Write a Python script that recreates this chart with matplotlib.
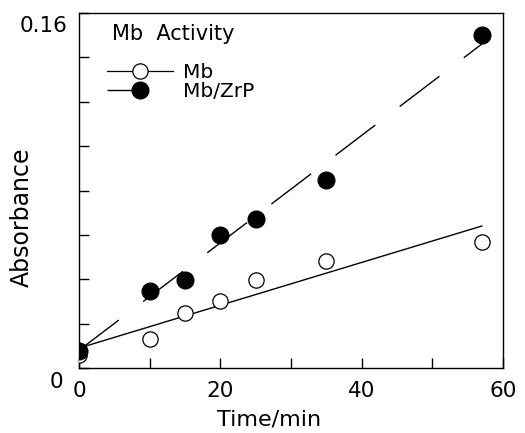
import matplotlib
matplotlib.use("Agg")
import matplotlib.pyplot as plt
from matplotlib.lines import Line2D
import numpy as np

plt.rcParams['font.family'] = ['DejaVu Sans']

# data
time_mb = [0, 10, 15, 20, 25, 35, 57]
abs_mb = [0.006, 0.013, 0.0246, 0.030, 0.0397, 0.0484, 0.057]
time_zrp = [0, 10, 15, 20, 25, 35, 57]
abs_zrp = [0.0077, 0.0349, 0.0397, 0.060, 0.0672, 0.0848, 0.150]

# fitted lines (start, end)
fit_t = [0, 57]
fit_mb = [0.009, 0.064]
fit_zrp = [0.008, 0.146]

fig = plt.figure(figsize=(5.25, 4.33), dpi=100)
ax = fig.add_axes([0.1505, 0.150, 0.8076, 0.820])

ax.plot(fit_t, fit_mb, color='black', lw=1.0, zorder=1)
ax.plot(fit_t, fit_zrp, color='black', lw=1.0, dashes=(36, 22), zorder=1)
ax.plot(time_mb, abs_mb, 'o', ms=11, mfc='white', mec='black', mew=0.9, zorder=3)
ax.plot(time_zrp, abs_zrp, 'o', ms=12, mfc='black', mec='black', zorder=4)

ax.set_xlim(0, 60)
ax.set_ylim(0, 0.16)
ax.set_xticks(np.arange(0, 61, 10))
ax.set_xticklabels(['0', '', '20', '', '40', '', '60'])
ax.set_yticks(np.arange(0, 0.161, 0.02))
ax.set_yticklabels([])
ax.tick_params(direction='in', length=7, width=1, labelsize=15.5, pad=9)
for s in ax.spines.values():
    s.set_linewidth(1.0)

ax.text(-0.038, -0.056, '0', transform=ax.transAxes, fontsize=15.5, ha='right', va='baseline')
ax.text(-0.028, 0.946, '0.16', transform=ax.transAxes, fontsize=15.5, ha='right', va='baseline')

ax.set_xlabel('Time/min', fontsize=16)
ax.xaxis.set_label_coords(0.448, -0.118)
ax.set_ylabel('Absorbance', fontsize=17)
ax.yaxis.set_label_coords(-0.106, 0.424)

ax.text(0.078, 0.924, 'Mb  Activity', transform=ax.transAxes, fontsize=15,
        ha='left', va='baseline')

handles = [
    Line2D([], [], color='black', lw=0.9, marker='o', ms=11, mfc='white', mec='black', mew=0.9),
    Line2D([], [], color='black', lw=1.0, dashes=(24, 100), marker='o', ms=12,
           mfc='black', mec='black'),
]
leg = ax.legend(handles, ['Mb', 'Mb/ZrP'], loc='upper left',
                bbox_to_anchor=(0.066, 0.858), frameon=False, fontsize=14.5,
                handlelength=3.28, handletextpad=0.5, numpoints=1,
                labelspacing=0.0, borderaxespad=0, borderpad=0)

fig.savefig('out.png', dpi=100)
